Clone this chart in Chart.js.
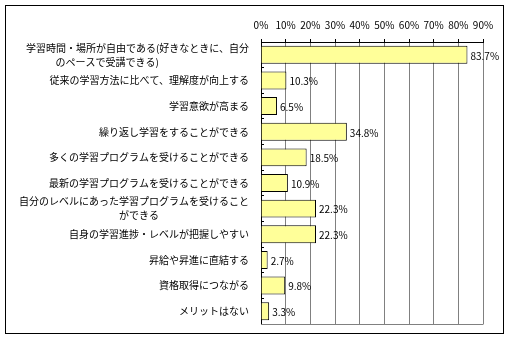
<!DOCTYPE html>
<html lang="ja">
<head>
    <meta charset="UTF-8">
    <title>eラーニングのメリット</title>
    <script src="https://cdn.jsdelivr.net/npm/chart.js"></script>
    <style>
        body { margin: 0; background: #fff; }
        .frame {
            position: absolute;
            left: 5px;
            top: 5px;
            width: 497px;
            height: 327px;
            border: 1px solid #000;
            background: #fff;
        }
        canvas { display: block; }
    </style>
</head>
<body>
<div class="frame">
    <canvas id="meritChart" width="497" height="327"></canvas>
</div>

<script>
    // Answers (the wrapped ones are padded so the 2nd line sits centred)
    const categories = [
        ["学習時間・場所が自由である(好きなときに、自分", "のペースで受講できる)　　　　　　　　　"],
        "従来の学習方法に比べて、理解度が向上する",
        "学習意欲が高まる",
        "繰り返し学習をすることができる",
        "多くの学習プログラムを受けることができる",
        "最新の学習プログラムを受けることができる",
        ["自分のレベルにあった学習プログラムを受けること", "ができる　　　　　　　　　"],
        "自身の学習進捗・レベルが把握しやすい",
        "昇給や昇進に直結する",
        "資格取得につながる",
        "メリットはない"
    ];
    const percents = [83.7, 10.3, 6.5, 34.8, 18.5, 10.9, 22.3, 22.3, 2.7, 9.8, 3.3];
    const axisMax = 90;
    const axisStep = 10;

    const jpFont = { family: "'Noto Sans CJK JP', 'Noto Sans', sans-serif", size: 10 };

    // value text to the right of each bar
    const valueLabels = {
        id: 'valueLabels',
        afterDatasetsDraw(chart) {
            const ctx = chart.ctx;
            const meta = chart.getDatasetMeta(0);
            ctx.save();
            ctx.font = "10px 'Noto Sans CJK JP', 'Noto Sans', sans-serif";
            ctx.fillStyle = '#000';
            ctx.textAlign = 'left';
            ctx.textBaseline = 'middle';
            meta.data.forEach((bar, i) => {
                ctx.fillText(percents[i].toFixed(1) + '%', bar.x + 3, bar.y + 1);
            });
            ctx.restore();
        }
    };

    // grey bottom edge of the plot area
    const plotBottom = {
        id: 'plotBottom',
        afterDraw(chart) {
            const a = chart.chartArea;
            const ctx = chart.ctx;
            ctx.save();
            ctx.strokeStyle = '#808080';
            ctx.lineWidth = 1;
            ctx.beginPath();
            ctx.moveTo(a.left, Math.round(a.bottom) + 0.5);
            ctx.lineTo(a.right + 0.5, Math.round(a.bottom) + 0.5);
            ctx.stroke();
            ctx.restore();
        }
    };

    new Chart(document.getElementById('meritChart'), {
        type: 'bar',
        data: {
            labels: categories,
            datasets: [{
                data: percents,
                backgroundColor: '#FFFF99',
                borderColor: '#000',
                borderWidth: 1,
                barPercentage: 0.7,
                categoryPercentage: 1
            }]
        },
        options: {
            indexAxis: 'y',
            responsive: false,
            animation: false,
            layout: { padding: { left: 0, right: 20, top: 0, bottom: 9 } },
            plugins: {
                legend: { display: false },
                tooltip: { enabled: false }
            },
            scales: {
                x: {
                    position: 'top',
                    min: 0,
                    max: axisMax,
                    afterFit(scale) { scale.height = 36; },
                    ticks: {
                        stepSize: axisStep,
                        color: '#000',
                        font: jpFont,
                        padding: 8,
                        maxRotation: 0,
                        callback: v => v + '%'
                    },
                    grid: {
                        color: '#808080',
                        tickColor: '#000',
                        tickLength: 3,
                        lineWidth: 1
                    },
                    border: { color: '#000', width: 1 }
                },
                y: {
                    afterFit(scale) {
                        scale.width = 255;
                        // labels sit inside their rows, no extra room needed
                        scale.paddingTop = 0;
                        scale.paddingBottom = 0;
                    },
                    ticks: {
                        color: '#000',
                        font: { ...jpFont, lineHeight: 1.4 },
                        padding: 15,
                        autoSkip: false
                    },
                    // short marks pointing into the plot between categories
                    grid: {
                        offset: true,
                        drawOnChartArea: false,
                        drawTicks: true,
                        tickLength: -3,
                        color: '#000',
                        tickColor: '#000'
                    },
                    border: { color: '#000', width: 1 }
                }
            }
        },
        plugins: [valueLabels, plotBottom]
    });
</script>
</body>
</html>
